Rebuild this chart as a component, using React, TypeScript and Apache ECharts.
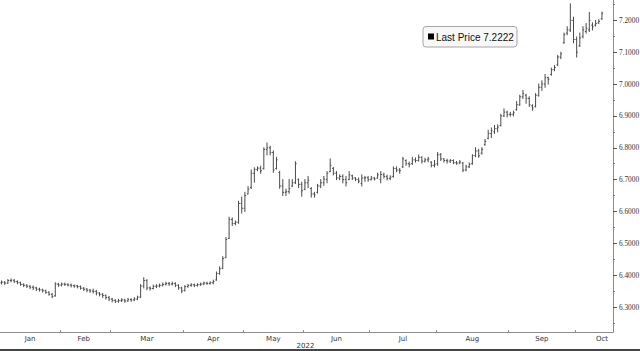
import React, { useEffect, useRef } from 'react';
import * as echarts from 'echarts';

// Month names, trading days per month (Oct includes 3 empty days at the right edge)
const monthNames = ['Jan', 'Feb', 'Mar', 'Apr', 'May', 'Jun', 'Jul', 'Aug', 'Sep', 'Oct'];
const monthLengths = [19, 16, 23, 19, 19, 21, 21, 23, 21, 12];
const monthLabelDays = [9, 26, 46, 67, 86, 106, 127, 149, 171, 190];
const yearLabel = '2022';
const yTicks = [6.3, 6.4, 6.5, 6.6, 6.7, 6.8, 6.9, 7.0, 7.1, 7.2];
const yMinorTicks = [6.25, 6.35, 6.45, 6.55, 6.65, 6.75, 6.85, 6.95, 7.05, 7.15, 7.25];
const yMin = 6.2215;
const yMax = 7.264;

// [open, close, low, high]
const janBars = [
  [6.376, 6.378, 6.372, 6.382], [6.378, 6.375, 6.371, 6.380], [6.375, 6.383, 6.374, 6.386],
  [6.383, 6.384, 6.379, 6.388], [6.384, 6.380, 6.377, 6.386], [6.380, 6.376, 6.373, 6.382],
  [6.376, 6.371, 6.368, 6.378], [6.371, 6.368, 6.364, 6.373], [6.368, 6.365, 6.361, 6.370],
  [6.365, 6.362, 6.358, 6.368], [6.362, 6.360, 6.355, 6.366], [6.360, 6.356, 6.352, 6.362],
  [6.356, 6.354, 6.350, 6.359], [6.354, 6.351, 6.347, 6.356], [6.351, 6.346, 6.343, 6.353],
  [6.346, 6.340, 6.337, 6.348], [6.340, 6.333, 6.329, 6.342], [6.335, 6.372, 6.334, 6.376],
  [6.372, 6.369, 6.365, 6.374],
];
const febBars = [
  [6.369, 6.372, 6.366, 6.375], [6.372, 6.371, 6.368, 6.375], [6.371, 6.369, 6.366, 6.373],
  [6.369, 6.367, 6.363, 6.372], [6.367, 6.366, 6.362, 6.369], [6.366, 6.364, 6.360, 6.368],
  [6.364, 6.359, 6.356, 6.366], [6.359, 6.356, 6.352, 6.361], [6.356, 6.353, 6.348, 6.358],
  [6.353, 6.350, 6.346, 6.355], [6.350, 6.349, 6.344, 6.356], [6.349, 6.344, 6.338, 6.352],
  [6.344, 6.340, 6.335, 6.345], [6.340, 6.336, 6.330, 6.342], [6.336, 6.330, 6.325, 6.338],
  [6.330, 6.325, 6.320, 6.333],
];
const marBars = [
  [6.325, 6.321, 6.316, 6.327], [6.321, 6.318, 6.314, 6.323], [6.318, 6.320, 6.315, 6.324],
  [6.320, 6.322, 6.317, 6.326], [6.322, 6.319, 6.315, 6.324], [6.319, 6.323, 6.318, 6.327],
  [6.323, 6.322, 6.318, 6.326], [6.322, 6.325, 6.320, 6.329], [6.325, 6.331, 6.323, 6.334],
  [6.331, 6.366, 6.330, 6.370], [6.366, 6.383, 6.360, 6.392], [6.383, 6.360, 6.354, 6.386],
  [6.360, 6.358, 6.353, 6.363], [6.358, 6.365, 6.357, 6.369], [6.365, 6.366, 6.361, 6.370],
  [6.366, 6.368, 6.363, 6.372], [6.368, 6.371, 6.366, 6.375], [6.371, 6.374, 6.369, 6.378],
  [6.374, 6.372, 6.368, 6.377], [6.372, 6.374, 6.369, 6.378], [6.374, 6.368, 6.364, 6.376],
  [6.368, 6.360, 6.356, 6.370], [6.360, 6.350, 6.345, 6.362],
];
const aprBars = [
  [6.352, 6.364, 6.350, 6.367], [6.364, 6.368, 6.362, 6.371], [6.368, 6.370, 6.365, 6.373],
  [6.370, 6.368, 6.364, 6.372], [6.368, 6.370, 6.366, 6.373], [6.370, 6.372, 6.368, 6.375],
  [6.372, 6.375, 6.370, 6.378], [6.375, 6.374, 6.371, 6.378], [6.374, 6.376, 6.372, 6.379],
  [6.376, 6.380, 6.373, 6.384], [6.385, 6.405, 6.384, 6.410], [6.405, 6.420, 6.403, 6.426],
  [6.422, 6.452, 6.420, 6.458], [6.455, 6.512, 6.455, 6.518], [6.515, 6.575, 6.515, 6.582],
  [6.575, 6.562, 6.556, 6.580], [6.562, 6.566, 6.558, 6.570], [6.566, 6.625, 6.563, 6.632],
  [6.625, 6.610, 6.595, 6.645],
];
const mayBars = [
  [6.610, 6.650, 6.600, 6.660], [6.655, 6.670, 6.655, 6.678], [6.675, 6.720, 6.672, 6.730],
  [6.720, 6.732, 6.692, 6.737], [6.732, 6.736, 6.728, 6.740], [6.736, 6.728, 6.720, 6.742],
  [6.735, 6.795, 6.733, 6.800], [6.795, 6.800, 6.778, 6.815], [6.800, 6.785, 6.778, 6.805],
  [6.785, 6.730, 6.723, 6.790], [6.735, 6.762, 6.733, 6.770], [6.722, 6.680, 6.673, 6.726],
  [6.680, 6.660, 6.650, 6.700], [6.660, 6.662, 6.650, 6.670], [6.662, 6.672, 6.657, 6.700],
  [6.680, 6.690, 6.678, 6.700], [6.690, 6.750, 6.688, 6.756], [6.700, 6.685, 6.675, 6.702],
  [6.685, 6.665, 6.648, 6.692],
];
const junBars = [
  [6.670, 6.690, 6.668, 6.700], [6.690, 6.698, 6.675, 6.710], [6.672, 6.655, 6.645, 6.675],
  [6.655, 6.652, 6.645, 6.660], [6.660, 6.680, 6.658, 6.685], [6.680, 6.690, 6.675, 6.700],
  [6.690, 6.702, 6.682, 6.710], [6.700, 6.720, 6.690, 6.725], [6.725, 6.745, 6.725, 6.765],
  [6.735, 6.720, 6.715, 6.738], [6.720, 6.705, 6.700, 6.725], [6.705, 6.710, 6.700, 6.715],
  [6.710, 6.700, 6.690, 6.715], [6.700, 6.690, 6.680, 6.710], [6.700, 6.715, 6.700, 6.725],
  [6.712, 6.705, 6.700, 6.714], [6.705, 6.700, 6.697, 6.706], [6.700, 6.695, 6.690, 6.705],
  [6.688, 6.705, 6.680, 6.715], [6.705, 6.706, 6.695, 6.710], [6.706, 6.700, 6.695, 6.710],
];
const julBars = [
  [6.700, 6.705, 6.699, 6.710], [6.705, 6.702, 6.699, 6.706], [6.705, 6.715, 6.704, 6.720],
  [6.700, 6.716, 6.690, 6.725], [6.715, 6.710, 6.705, 6.720], [6.710, 6.704, 6.699, 6.714],
  [6.704, 6.708, 6.700, 6.712], [6.710, 6.735, 6.708, 6.740], [6.735, 6.730, 6.725, 6.740],
  [6.730, 6.728, 6.720, 6.735], [6.740, 6.765, 6.738, 6.770], [6.760, 6.750, 6.745, 6.762],
  [6.750, 6.748, 6.740, 6.755], [6.750, 6.762, 6.748, 6.770], [6.762, 6.760, 6.755, 6.768],
  [6.760, 6.770, 6.758, 6.777], [6.770, 6.758, 6.752, 6.772], [6.758, 6.762, 6.755, 6.767],
  [6.762, 6.765, 6.756, 6.770], [6.755, 6.745, 6.740, 6.756], [6.745, 6.748, 6.740, 6.760],
];
const augBars = [
  [6.750, 6.778, 6.745, 6.785], [6.778, 6.765, 6.760, 6.782], [6.765, 6.760, 6.755, 6.766],
  [6.760, 6.758, 6.752, 6.764], [6.758, 6.760, 6.754, 6.763], [6.760, 6.753, 6.750, 6.762],
  [6.753, 6.752, 6.748, 6.757], [6.752, 6.755, 6.750, 6.760], [6.752, 6.730, 6.725, 6.754],
  [6.730, 6.740, 6.728, 6.745], [6.740, 6.748, 6.738, 6.752], [6.750, 6.775, 6.748, 6.778],
  [6.775, 6.790, 6.772, 6.800], [6.790, 6.775, 6.770, 6.795], [6.783, 6.795, 6.780, 6.800],
  [6.810, 6.820, 6.808, 6.826], [6.830, 6.845, 6.828, 6.855], [6.845, 6.855, 6.832, 6.862],
  [6.850, 6.860, 6.845, 6.870], [6.860, 6.865, 6.850, 6.872], [6.870, 6.900, 6.868, 6.905],
  [6.900, 6.912, 6.898, 6.922], [6.912, 6.905, 6.897, 6.915],
];
const sepBars = [
  [6.905, 6.905, 6.899, 6.911], [6.905, 6.910, 6.900, 6.915], [6.920, 6.935, 6.918, 6.945],
  [6.935, 6.960, 6.933, 6.965], [6.960, 6.970, 6.955, 6.980], [6.965, 6.955, 6.940, 6.968],
  [6.955, 6.935, 6.930, 6.960], [6.932, 6.925, 6.918, 6.935], [6.930, 6.965, 6.928, 6.970],
  [6.965, 6.990, 6.962, 7.000], [6.990, 7.000, 6.980, 7.010], [7.000, 7.020, 6.990, 7.030],
  [7.020, 7.015, 7.000, 7.022], [7.030, 7.045, 7.028, 7.050], [7.045, 7.052, 7.042, 7.058],
  [7.060, 7.085, 7.058, 7.090], [7.085, 7.095, 7.080, 7.100], [7.130, 7.155, 7.128, 7.160],
  [7.160, 7.170, 7.155, 7.180], [7.170, 7.200, 7.165, 7.252], [7.200, 7.140, 7.130, 7.210],
];
const octBars = [
  [7.140, 7.100, 7.085, 7.148], [7.120, 7.145, 7.118, 7.160], [7.150, 7.170, 7.145, 7.180],
  [7.165, 7.175, 7.160, 7.190], [7.170, 7.200, 7.165, 7.225], [7.185, 7.180, 7.170, 7.192],
  [7.185, 7.190, 7.182, 7.200], [7.192, 7.197, 7.190, 7.202], [7.205, 7.2222, 7.203, 7.226],
];

const barColor = '#4a4a4a';
const axisColor = '#8c8c8c';

export default function App() {
  const ref = useRef<HTMLDivElement>(null);

  useEffect(() => {
    if (!ref.current) return;
    const chart = echarts.init(ref.current, undefined, { renderer: 'svg' });

    const bars = [
      ...janBars, ...febBars, ...marBars, ...aprBars, ...mayBars,
      ...junBars, ...julBars, ...augBars, ...sepBars, ...octBars,
    ];
    const categories: string[] = [];
    const monthStarts: number[] = [];
    monthNames.forEach((m, mi) => {
      monthStarts.push(categories.length);
      for (let d = 0; d < monthLengths[mi]; d++) categories.push(m + ' ' + (d + 1));
    });
    const lastClose = bars[bars.length - 1][1];
    const seriesData = bars.map((b, i) => [i, b[0], b[1], b[2], b[3]]);

    const option: any = {
      animation: false,
      backgroundColor: '#ffffff',
      textStyle: { fontFamily: 'DejaVu Sans' },
      grid: { left: 0, right: 27, top: 0, bottom: 19, containLabel: false, outerBoundsMode: 'none' },
      xAxis: {
        type: 'category',
        data: categories,
        boundaryGap: true,
        axisLine: { show: true, lineStyle: { color: axisColor, width: 1 } },
        axisTick: {
          show: true,
          inside: true,
          length: 2,
          interval: (idx: number) => idx > 0 && monthStarts.includes(idx),
          lineStyle: { color: axisColor },
        },
        axisLabel: {
          interval: (idx: number) => monthLabelDays.includes(idx),
          formatter: (v: string) => v.split(' ')[0],
          fontSize: 7,
          fontFamily: 'DejaVu Sans',
          color: '#333',
          margin: 3,
        },
        splitLine: { show: false },
      },
      yAxis: [
        {
          type: 'value',
          position: 'right',
          min: yMin,
          max: yMax,
          axisLine: { show: true, lineStyle: { color: axisColor, width: 1 } },
          axisTick: { show: true, length: 4, customValues: yTicks, lineStyle: { color: '#555' } },
          axisLabel: {
            customValues: yTicks,
            formatter: (v: number) => v.toFixed(4),
            fontSize: 7.3,
            lineHeight: 7,
            fontFamily: 'Liberation Serif',
            color: '#333',
            margin: 6,
          },
          splitLine: { show: false },
        },
        {
          type: 'value',
          position: 'right',
          min: yMin,
          max: yMax,
          axisLine: { show: false },
          axisTick: { show: true, length: 2, customValues: yMinorTicks, lineStyle: { color: '#777' } },
          axisLabel: { show: false },
          splitLine: { show: false },
        },
      ],
      series: [
        {
          type: 'custom',
          yAxisIndex: 0,
          data: seriesData,
          encode: { x: 0, y: [1, 2, 3, 4] },
          renderItem: (params: any, api: any) => {
            const i = api.value(0);
            const pO = api.coord([i, api.value(1)]);
            const pC = api.coord([i, api.value(2)]);
            const pL = api.coord([i, api.value(3)]);
            const pH = api.coord([i, api.value(4)]);
            const x = pO[0];
            const t = 1.2;
            const style = { stroke: barColor, lineWidth: 1 };
            return {
              type: 'group',
              children: [
                { type: 'line', shape: { x1: x, y1: pH[1] - 0.5, x2: x, y2: pL[1] + 0.5 }, style },
                { type: 'line', shape: { x1: x - t, y1: pO[1], x2: x, y2: pO[1] }, style },
                { type: 'line', shape: { x1: x, y1: pC[1], x2: x + t, y2: pC[1] }, style },
              ],
            };
          },
          markLine: {
            silent: true,
            symbol: 'none',
            lineStyle: { opacity: 0 },
            data: [{ yAxis: lastClose }],
            label: {
              show: true,
              position: 'end',
              distance: 1,
              offset: [0, -1.5],
              formatter: () => lastClose.toFixed(4),
              color: '#ffffff',
              backgroundColor: '#111111',
              padding: [0, 2, 0, 2],
              borderRadius: 3,
              fontSize: 7,
              lineHeight: 7,
              fontFamily: 'Liberation Sans',
            },
          },
        },
      ],
      graphic: [
        {
          type: 'rect',
          shape: { x: 423, y: 26.5, width: 94, height: 20.5, r: 3 },
          style: { fill: '#f8f8f8', stroke: '#a6a6a6', lineWidth: 1 },
        },
        {
          type: 'rect',
          shape: { x: 428, y: 33.5, width: 6, height: 6 },
          style: { fill: '#000000' },
        },
        {
          type: 'text',
          x: 436,
          y: 37,
          style: {
            text: 'Last Price ' + lastClose.toFixed(4),
            fontSize: 10,
            fontFamily: 'Liberation Sans',
            fill: '#111111',
            verticalAlign: 'middle',
            align: 'left',
          },
        },
        {
          type: 'text',
          x: 305.5,
          y: 345.5,
          style: {
            text: yearLabel,
            fontSize: 7,
            fontFamily: 'DejaVu Sans',
            fill: '#333333',
            verticalAlign: 'middle',
            align: 'center',
          },
        },
        {
          type: 'rect',
          shape: { x: 0, y: 349, width: 640, height: 2 },
          style: { fill: '#444444' },
        },
      ],
    };

    chart.setOption(option);
    return () => chart.dispose();
  }, []);

  return (
    <div
      ref={ref}
      style={{ position: 'absolute', left: 0, top: 0, width: 640, height: 351, background: '#fff' }}
    />
  );
}
